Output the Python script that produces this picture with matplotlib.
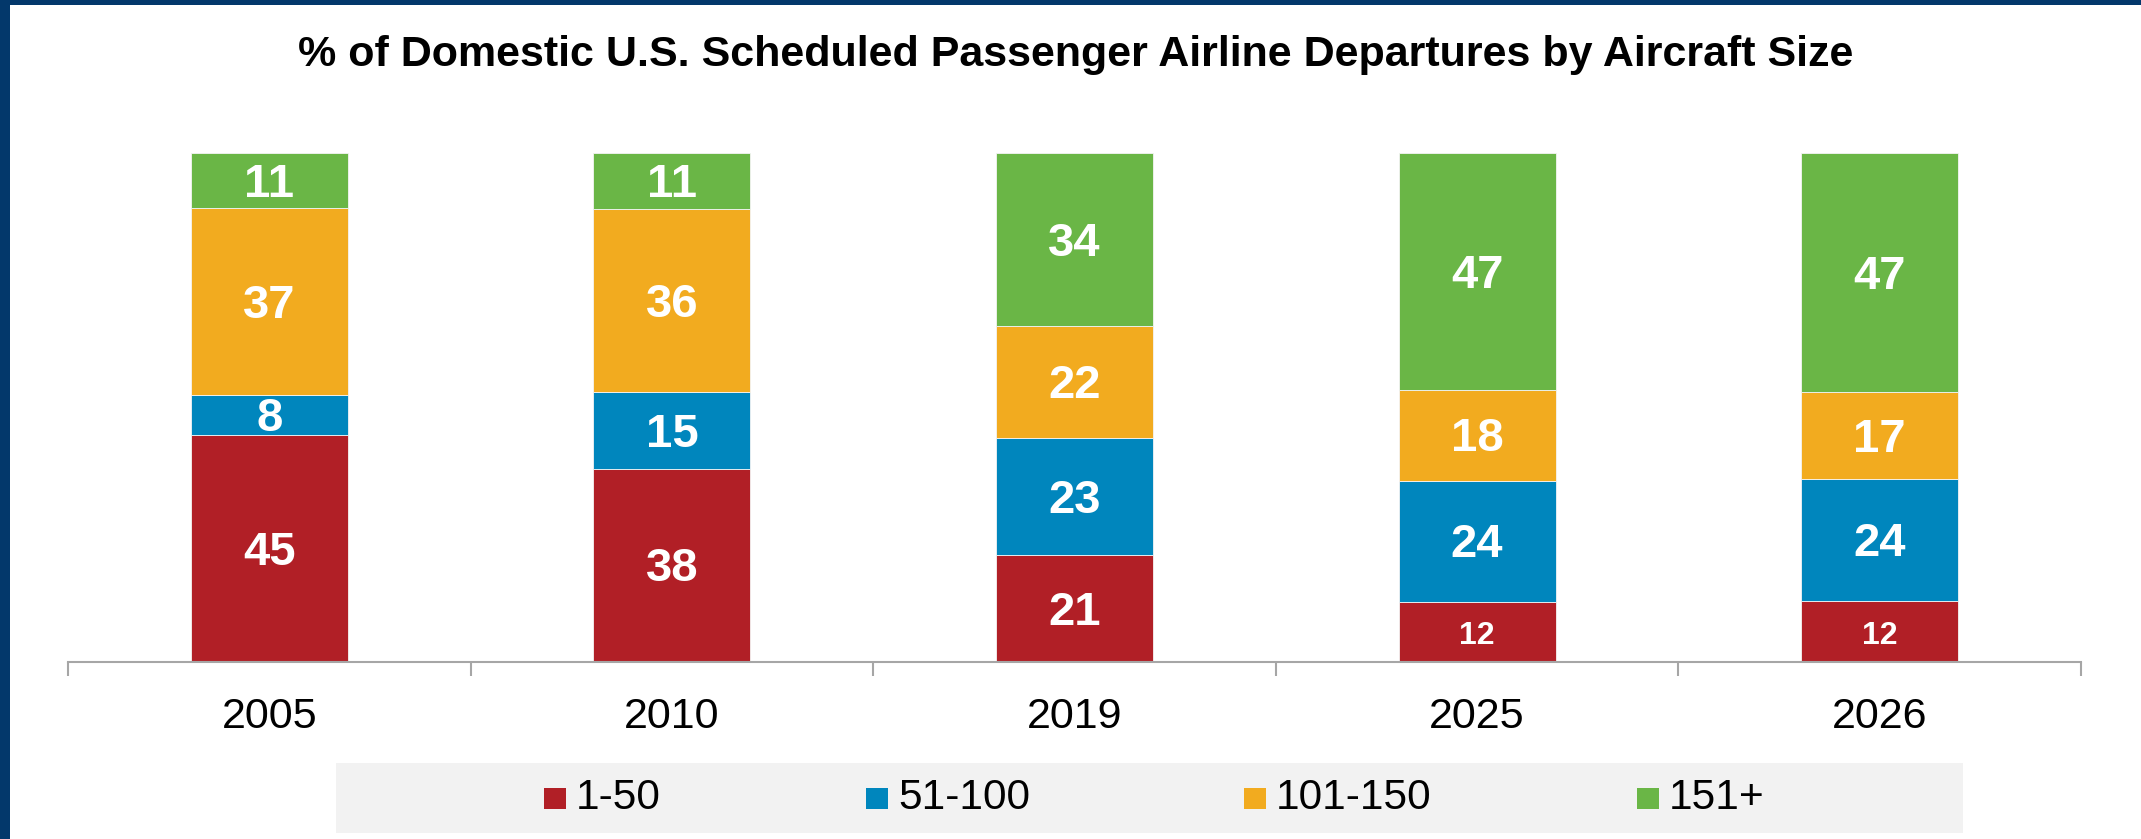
import matplotlib
matplotlib.use("Agg")
import matplotlib.pyplot as plt
from matplotlib.patches import Rectangle
from matplotlib.transforms import offset_copy
import numpy as np

plt.rcParams['font.family'] = ['Liberation Sans', 'DejaVu Sans']

# ---- data ----
years = ["2005", "2010", "2019", "2025", "2026"]
series_names = ["1-50", "51-100", "101-150", "151+"]
seats_1_50 = [45, 38, 21, 12, 12]
seats_51_100 = [8, 15, 23, 24, 24]
seats_101_150 = [37, 36, 22, 18, 17]
seats_151_plus = [11, 11, 34, 47, 47]
title = "% of Domestic U.S. Scheduled Passenger Airline Departures by Aircraft Size"

colors = ["#B11F26", "#0086BD", "#F2AB1F", "#6AB646"]
series = [seats_1_50, seats_51_100, seats_101_150, seats_151_plus]

W, H = 2141, 839
fig = plt.figure(figsize=(W / 100, H / 100), dpi=100)
fig.patch.set_facecolor("white")

ax = fig.add_axes([68 / W, (H - 662) / H, 2013 / W, 509 / H])
label_tr = offset_copy(ax.transData, fig=fig, x=0, y=-3, units="points")

x = np.arange(len(years))
data = np.array(series, dtype=float)
totals = data.sum(axis=0)
pct = data / totals * 100.0

bottom = np.zeros(len(years))
for i, (name, col) in enumerate(zip(series_names, colors)):
    ax.bar(x, pct[i], bottom=bottom, width=0.39, color=col,
           edgecolor="#F4F4F4", linewidth=0.6, label=name, zorder=2)
    for j in range(len(years)):
        val = series[i][j]
        small = (i == 0 and years[j] in ("2025", "2026"))
        ax.text(x[j], bottom[j] + pct[i][j] / 2, str(val), transform=label_tr,
                ha="center", va="center", color="white", fontweight="bold",
                fontsize=23 if small else 34, zorder=3)
    bottom += pct[i]

ax.set_xlim(-0.5, len(years) - 0.5)
ax.set_ylim(0, 100)
for s in ["left", "right", "top"]:
    ax.spines[s].set_visible(False)
ax.spines["bottom"].set_color("#A6A6A6")
ax.spines["bottom"].set_linewidth(1.5)
ax.set_yticks([])
ax.set_xticks(x)
ax.set_xticklabels(years, fontsize=31)
ax.tick_params(axis="x", which="major", length=0, pad=25)
ax.set_xticks(np.arange(-0.5, len(years)), minor=True)
ax.tick_params(axis="x", which="minor", length=10, width=1.5, color="#A6A6A6")

# title
fig.text(1076 / W, (H - 55) / H, title, ha="center", va="center",
         fontsize=31, fontweight="bold", color="black")

# legend (manual, Excel style)
fig.patches.append(Rectangle((336 / W, (H - 833) / H), (1963 - 336) / W, 70 / H,
                             transform=fig.transFigure, facecolor="#F2F2F2",
                             edgecolor="none", zorder=0))
sq_x = [544, 866, 1244, 1637]
for name, col, sx in zip(series_names, colors, sq_x):
    fig.patches.append(Rectangle((sx / W, (H - 809) / H), 22 / W, 21 / H,
                                 transform=fig.transFigure, facecolor=col,
                                 edgecolor="none", zorder=1))
    fig.text((sx + 32) / W, (H - 798) / H, name, ha="left", va="center",
             fontsize=30.5, color="black")

# dark blue frame edges
fig.patches.append(Rectangle((0, 0), 10 / W, 1, transform=fig.transFigure,
                             facecolor="#03386B", edgecolor="none", zorder=5))
fig.patches.append(Rectangle((0, 1 - 5 / H), 1, 5 / H, transform=fig.transFigure,
                             facecolor="#03386B", edgecolor="none", zorder=5))

fig.savefig("out.png", dpi=100, facecolor="white")
